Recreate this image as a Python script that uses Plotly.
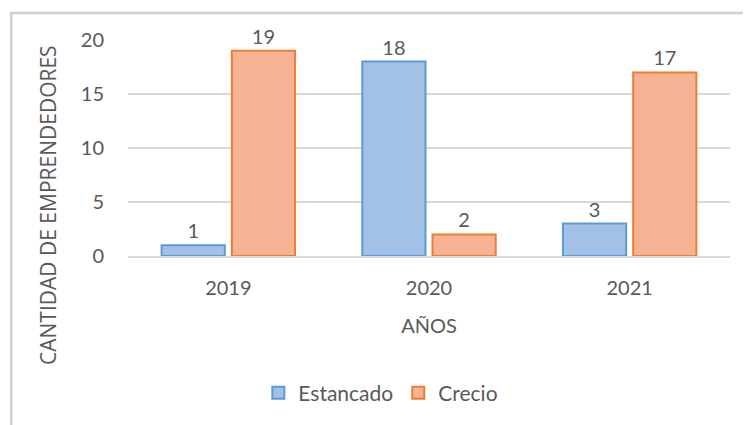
import plotly.graph_objects as go

years = ["2019", "2020", "2021"]
estancado = [1, 18, 3]
crecio = [19, 2, 17]

font_family = "Lato, 'Open Sans', sans-serif"
text_gray = "#595959"
border_gray = "#d9d9d9"

fig = go.Figure()
fig.add_trace(go.Bar(
    x=years, y=estancado, name="Estancado",
    marker=dict(color="#a3c1e7", line=dict(color="#5b9bd5", width=2)),
    text=estancado, textposition="outside",
    textfont=dict(size=20, color=text_gray), cliponaxis=False,
))
fig.add_trace(go.Bar(
    x=years, y=crecio, name="Crecio",
    marker=dict(color="#f5b393", line=dict(color="#ed7d31", width=2)),
    text=crecio, textposition="outside",
    textfont=dict(size=20, color=text_gray), cliponaxis=False,
))

# the page body adds an 8px offset, so margins are shifted to compensate
fig.update_layout(
    width=751, height=425,
    margin=dict(l=120, r=29, t=32, b=177, autoexpand=False),
    paper_bgcolor="white", plot_bgcolor="white",
    font=dict(family=font_family, color=text_gray, size=17),
    barmode="group", bargap=0.3, bargroupgap=0.1,
    showlegend=True,
    legend=dict(orientation="h", x=0.42, xanchor="center", y=-0.635, yanchor="middle",
                font=dict(size=21), itemwidth=30),
)
fig.update_yaxes(
    range=[0, 20], dtick=5, showgrid=True, gridcolor=border_gray, gridwidth=1.5,
    zeroline=False, showline=False, tickfont=dict(size=20),
    ticklabelstandoff=23, automargin=False,
)
fig.update_xaxes(
    showline=True, linecolor=border_gray, linewidth=1.5,
    tickfont=dict(size=20), ticklabelstandoff=13, automargin=False,
    title=dict(text="AÑOS", font=dict(size=20), standoff=21),
)

# y-axis title placed like the original (centred lower than the plot area)
fig.add_annotation(text="CANTIDAD DE EMPRENDEDORES", textangle=-90, showarrow=False,
                   xref="paper", yref="paper", x=-0.133, y=0.236,
                   xanchor="center", yanchor="middle",
                   font=dict(family="'Open Sans', sans-serif", size=21, color=text_gray))

# chart-area border (only top and left edges visible in the crop)
fig.add_shape(type="rect", xref="paper", yref="paper", x0=-0.194, x1=1.2, y0=-0.95, y1=1.125,
              line=dict(color="#d0d0d0", width=2.5), fillcolor="rgba(0,0,0,0)", layer="below")

fig.write_html("out.html")
